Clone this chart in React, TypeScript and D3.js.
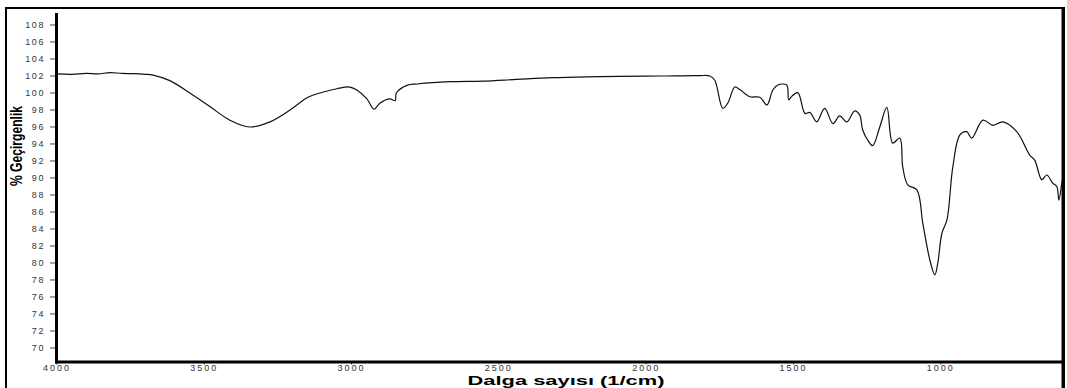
import * as d3 from "d3";

// IR spectrum
const wavenumbers = [
  4000, 3950, 3900, 3860, 3820, 3780, 3740, 3700, 3674, 3617, 3549, 3481, 3413,
  3345, 3277, 3209, 3148, 3107, 3050, 3006, 2982, 2948, 2924, 2904, 2870, 2852,
  2848, 2812, 2778, 2666, 2554, 2439, 2317, 2200, 2089, 1950, 1818, 1784, 1767,
  1740, 1723, 1699, 1682, 1648, 1614, 1590, 1570, 1553, 1523, 1516, 1506, 1485,
  1461, 1444, 1421, 1394, 1366, 1343, 1319, 1292, 1275, 1265, 1245, 1231, 1207,
  1183, 1163, 1139, 1129, 1112, 1081, 1061, 1037, 1020, 1010, 996, 979, 959,
  935, 912, 895, 857, 823, 789, 742, 698, 681, 657, 640, 620, 606, 599, 589, 586,
];
const transmittance = [
  102.24, 102.2, 102.3, 102.25, 102.4, 102.3, 102.28, 102.2, 102.1, 101.45,
  100.0, 98.4, 96.8, 96.0, 96.6, 98.0, 99.5, 100.0, 100.5, 100.7, 100.35, 99.3,
  98.1, 98.8, 99.3, 99.1, 100.0, 100.9, 101.06, 101.33, 101.4, 101.6, 101.8,
  101.9, 101.95, 102.0, 102.05, 102.0, 101.5, 98.2, 98.8, 100.7, 100.4, 99.56,
  99.5, 98.6, 100.35, 100.94, 100.94, 99.2, 99.6, 100.04, 97.6, 97.7, 96.6,
  98.2, 96.4, 97.3, 96.6, 97.9, 97.4, 95.65, 94.3, 93.8, 96.0, 98.3, 94.1, 94.7,
  91.3, 89.2, 88.6, 84.7, 80.35, 78.6, 80.0, 83.5, 85.06, 91.3, 95.06, 95.45,
  94.7, 96.8, 96.2, 96.6, 95.45, 92.7, 92.1, 89.8, 90.35, 89.4, 89.0, 87.4,
  89.4, 89.8,
];
const xTicks = [4000, 3500, 3000, 2500, 2000, 1500, 1000];
const yTicks = d3.range(70, 109, 2);

const W = 1067;
const H = 388;
const left = 57;
const right = 1063;
const top = 13;
const bottom = 362;

export default function App() {
  const x = d3.scaleLinear().domain([4000, 585]).range([left, right]);
  const y = d3.scaleLinear().domain([68.35, 109.41]).range([bottom, top]);

  const points = wavenumbers.map((w, i) => [w, transmittance[i]] as [number, number]);
  const line = d3
    .line<[number, number]>()
    .x((d) => x(d[0]))
    .y((d) => y(d[1]))
    .curve(d3.curveCatmullRom.alpha(0.5));

  const tickFont = "Liberation Sans, Arial, sans-serif";

  return (
    <svg
      width={W}
      height={H}
      style={{ position: "absolute", left: 0, top: 0, background: "#fff" }}
    >
      {/* outer frame */}
      <rect x={6} y={8} width={1058} height={400} fill="none" stroke="#000" strokeWidth={2} />

      {/* spectrum */}
      <path d={line(points) ?? ""} fill="none" stroke="#111" strokeWidth={1.2} />

      {/* y axis */}
      {yTicks.map((t) => (
        <g key={t} transform={`translate(0,${y(t)})`}>
          <line x1={left - 7} x2={left} stroke="#444" strokeWidth={1} />
          <text
            x={left - 12}
            dy="0.35em"
            textAnchor="end"
            fontFamily={tickFont}
            fontSize={9}
            letterSpacing={1.6}
            fill="#333"
          >
            {t}
          </text>
        </g>
      ))}
      <line x1={left - 0.5} x2={left - 0.5} y1={top} y2={bottom + 1.5} stroke="#000" strokeWidth={3} />

      {/* x axis */}
      {xTicks.map((t) => (
        <g key={t} transform={`translate(${x(t)},0)`}>
          <line y1={bottom} y2={bottom + 2.5} stroke="#444" strokeWidth={1} />
          <text
            y={bottom + 8.5}
            textAnchor="middle"
            fontFamily={tickFont}
            fontSize={9}
            letterSpacing={2}
            fill="#333"
          >
            {t}
          </text>
        </g>
      ))}
      <line x1={left - 2} x2={right + 1} y1={bottom} y2={bottom} stroke="#000" strokeWidth={3} />
      <line x1={right} x2={right} y1={8} y2={H} stroke="#000" strokeWidth={3} />

      {/* axis titles */}
      <text
        x={566}
        y={385.3}
        textAnchor="middle"
        fontFamily={tickFont}
        fontWeight="bold"
        fontSize={13}
        textLength={197}
        lengthAdjust="spacingAndGlyphs"
      >
        Dalga sayısı (1/cm)
      </text>
      <text
        transform="translate(22,146) rotate(-90)"
        textAnchor="middle"
        fontFamily={tickFont}
        fontWeight="bold"
        fontSize={17}
        textLength={80}
        lengthAdjust="spacingAndGlyphs"
      >
        % Geçirgenlik
      </text>
    </svg>
  );
}
